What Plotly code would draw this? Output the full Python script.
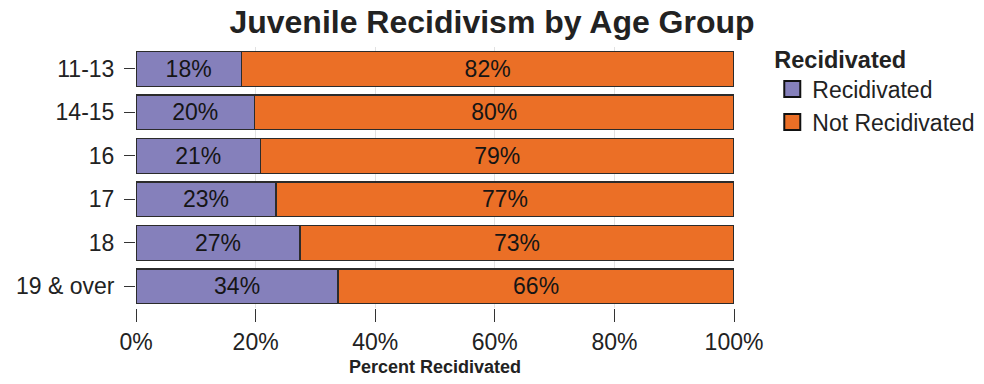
import plotly.graph_objects as go

age_groups = ["11-13", "14-15", "16", "17", "18", "19 & over"]
recidivated = [17.6, 19.8, 20.8, 23.4, 27.4, 33.8]
not_recidivated = [82.4, 80.2, 79.2, 76.6, 72.6, 66.2]
x_ticks = [0, 20, 40, 60, 80, 100]
x_tick_labels = ["0%", "20%", "40%", "60%", "80%", "100%"]

FONT = "Liberation Sans, Arial, sans-serif"
PURPLE = "#8580bb"
ORANGE = "#eb6f26"
EDGE = "#2b2b2b"

fig = go.Figure()
fig.add_trace(go.Bar(
    y=age_groups, x=recidivated, orientation="h", name="Recidivated", showlegend=False,
    marker=dict(color=PURPLE, line=dict(color=EDGE, width=1.3)),
    texttemplate="%{x:.0f}%", textposition="inside", insidetextanchor="middle",
    textfont=dict(size=23, color="#151515", family=FONT)))
fig.add_trace(go.Bar(
    y=age_groups, x=not_recidivated, orientation="h", name="Not Recidivated", showlegend=False,
    marker=dict(color=ORANGE, line=dict(color=EDGE, width=1.3)),
    texttemplate="%{x:.0f}%", textposition="inside", insidetextanchor="middle",
    textfont=dict(size=23, color="#151515", family=FONT)))

# legend entries with bigger outlined squares
for name, col in [("Recidivated", PURPLE), ("Not Recidivated", ORANGE)]:
    fig.add_trace(go.Scatter(
        x=[None], y=[None], mode="markers", name=name, legendgroup=name,
        marker=dict(symbol="square", size=16, color=col, line=dict(color="#111111", width=2))))

fig.update_layout(
    barmode="stack", bargap=0.2,
    width=984, height=384,
    margin=dict(l=136, r=250, t=47, b=76, autoexpand=False),
    plot_bgcolor="white", paper_bgcolor="white",
    font=dict(family=FONT, color="#222222"),
    uniformtext=dict(minsize=23, mode="show"),
    title=dict(text="<b>Juvenile Recidivism by Age Group</b>", x=0.5, xanchor="center",
               xref="container", yref="container",
               y=1 - 22 / 384, yanchor="middle", font=dict(size=32, color="#222222")),
    legend=dict(x=1.064, y=1.038, xanchor="left", yanchor="top",
                title=dict(text="<b>Recidivated</b>", font=dict(size=23.5)),
                font=dict(size=23), traceorder="grouped", tracegroupgap=0,
                itemsizing="trace"),
    showlegend=True,
)
fig.update_xaxes(
    range=[0, 100], tickvals=x_ticks, ticktext=x_tick_labels,
    tickfont=dict(size=23, color="#222222"),
    ticks="outside", ticklen=13, tickcolor="#333333",
    showgrid=True, gridcolor="#e2e2e2", zeroline=False, showline=False,
    title=dict(text="<b>Percent Recidivated</b>", font=dict(size=18, color="#222222"), standoff=6))
fig.update_yaxes(
    autorange="reversed", tickfont=dict(size=23, color="#222222"),
    ticks="outside", ticklen=11, tickcolor="#333333", ticklabelstandoff=5,
    showgrid=False, zeroline=False, showline=False)

fig.write_html("out.html", config={"displayModeBar": False},
               post_script="document.body.style.margin='0px';")
